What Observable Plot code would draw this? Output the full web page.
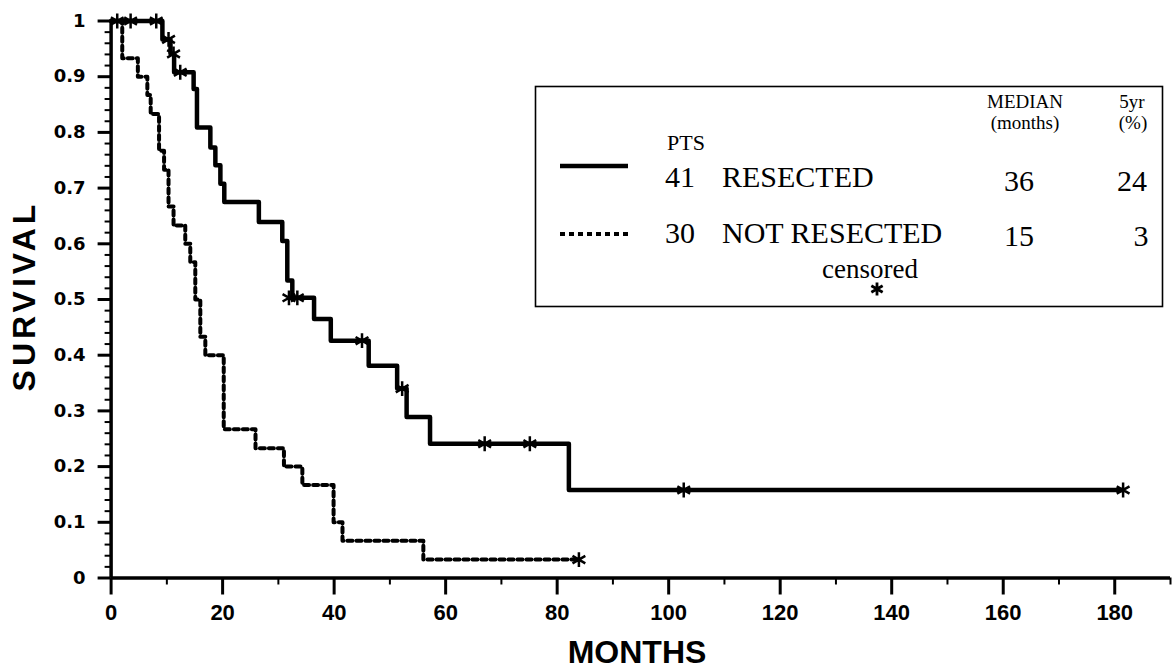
<!DOCTYPE html>
<html><head><meta charset="utf-8">
<script src="https://cdn.jsdelivr.net/npm/d3@7"></script>
<script src="https://cdn.jsdelivr.net/npm/@observablehq/plot@0.6"></script>
<style>
body{margin:0;background:#fff;}
#chart{position:relative;width:1176px;height:669px;}
</style></head><body><div id="chart"></div>
<script>
// ---- data ----
const resectedMonths   = [0, 9.2, 10.65, 11.3, 14.8, 15.4, 17.8, 18.7, 19.6, 20.3, 26.5, 30.7, 31.6, 32.5, 36.4, 39.4, 46.2, 51.3, 53.0, 57.2, 82.1, 181.5];
const resectedSurvival = [1, 0.967, 0.941, 0.908, 0.878, 0.809, 0.773, 0.741, 0.708, 0.675, 0.639, 0.605, 0.534, 0.503, 0.465, 0.426, 0.381, 0.340, 0.289, 0.241, 0.158, 0.158];
const resectedCensorMonths   = [1.1, 3.5, 8.1, 10.3, 11.2, 12.4, 31.9, 33.4, 45.0, 52.2, 67.0, 75.1, 102.7, 181.5];
const resectedCensorSurvival = [1, 1, 1, 0.967, 0.941, 0.908, 0.503, 0.503, 0.426, 0.340, 0.241, 0.241, 0.158, 0.158];

const notResectedMonths   = [0, 2.0, 4.8, 6.5, 7.1, 8.6, 9.5, 10.3, 11.2, 13.3, 14.2, 15.1, 16.0, 16.9, 20.2, 25.9, 31.0, 34.3, 39.9, 41.5, 56.0, 83.9];
const notResectedSurvival = [1, 0.933, 0.9, 0.867, 0.833, 0.767, 0.733, 0.667, 0.633, 0.6, 0.567, 0.5, 0.433, 0.4, 0.267, 0.233, 0.2, 0.167, 0.1, 0.067, 0.033, 0.033];
const notResectedCensorMonths   = [83.9];
const notResectedCensorSurvival = [0.033];

const xTicks      = [0, 20, 40, 60, 80, 100, 120, 140, 160, 180];
const xMinorTicks = [10, 30, 50, 70, 90, 110, 130, 150, 170, 190];
const yTicks      = [0, 0.1, 0.2, 0.3, 0.4, 0.5, 0.6, 0.7, 0.8, 0.9, 1];
const yMinorTicks = [0.02,0.04,0.06,0.08,0.12,0.14,0.16,0.18,0.22,0.24,0.26,0.28,0.32,0.34,0.36,0.38,0.42,0.44,0.46,0.48,0.52,0.54,0.56,0.58,0.62,0.64,0.66,0.68,0.72,0.74,0.76,0.78,0.82,0.84,0.86,0.88,0.92,0.94,0.96,0.98];

const legendPts     = [41, 30];
const legendGroups  = ["RESECTED", "NOT RESECTED"];
const legendMedian  = [36, 15];
const legendFiveYr  = [24, 3];

// ---- tables built from the arrays ----
const resected = resectedMonths.map((m, i) => ({month: m, s: resectedSurvival[i]}));
const notResected = notResectedMonths.map((m, i) => ({month: m, s: notResectedSurvival[i]}));
const censored = [
  ...resectedCensorMonths.map((m, i) => ({month: m, s: resectedCensorSurvival[i]})),
  ...notResectedCensorMonths.map((m, i) => ({month: m, s: notResectedCensorSurvival[i]}))
];

const fmtY = d => String(+d.toFixed(1));

const svgEl = Plot.plot({
  width: 1176, height: 669,
  marginLeft: 110.6, marginRight: 6, marginTop: 20.5, marginBottom: 91.5,
  style: {background: "white", color: "black", overflow: "visible"},
  x: {domain: [0, 190], label: null},
  y: {domain: [0, 1], label: null},
  marks: [
    Plot.axisX(xMinorTicks, {tickSize: 7, strokeWidth: 2, text: null, label: null}),
    Plot.axisX(xTicks, {tickSize: 17, strokeWidth: 3, tickPadding: 9, fontSize: 22, fontWeight: "bold", fontFamily: "Liberation Sans, Arial, sans-serif", tickFormat: d3.format("d"), label: null}),
    Plot.axisY(yMinorTicks, {tickSize: 6, strokeWidth: 2, text: null, label: null}),
    Plot.axisY(yTicks, {tickSize: 13, strokeWidth: 3, tickPadding: 12.5, fontSize: 18, fontWeight: "bold", fontFamily: "DejaVu Sans, sans-serif", tickFormat: fmtY, label: null}),
    Plot.ruleY([0], {stroke: "black", strokeWidth: 3.5}),
    Plot.ruleX([0], {y1: 0, y2: 1, stroke: "black", strokeWidth: 3.5}),
    Plot.line(notResected, {x: "month", y: "s", curve: "step-after", stroke: "black", strokeWidth: 4, strokeDasharray: "5,4"}),
    Plot.line(resected, {x: "month", y: "s", curve: "step-after", stroke: "black", strokeWidth: 4.5}),
    Plot.dot(censored, {x: "month", y: "s", symbol: "asterisk", r: 7, stroke: "black", strokeWidth: 2.5})
  ]
});
document.getElementById("chart").appendChild(svgEl);

// ---- axis titles and legend box ----
const svg = d3.select(svgEl);
svg.append("text")
  .attr("x", 637).attr("y", 663)
  .attr("text-anchor", "middle")
  .attr("font-family", "Liberation Sans, Arial, sans-serif")
  .attr("font-weight", "bold").attr("font-size", 32)
  .text("MONTHS");
svg.append("text")
  .attr("transform", "translate(35,296) rotate(-90)")
  .attr("text-anchor", "middle")
  .attr("font-family", "Liberation Sans, Arial, sans-serif")
  .attr("font-weight", "bold").attr("font-size", 32)
  .attr("letter-spacing", 4)
  .text("SURVIVAL");

const lg = svg.append("g")
  .attr("font-family", "Liberation Serif, Times New Roman, serif")
  .attr("fill", "black")
  .attr("text-anchor", "start");
lg.append("rect").attr("x", 535.5).attr("y", 86.5).attr("width", 627).attr("height", 220)
  .attr("fill", "white").attr("stroke", "black").attr("stroke-width", 1.6);
lg.append("text").attr("x", 667).attr("y", 150).attr("font-size", 22).text("PTS");
lg.append("text").attr("x", 1025).attr("y", 108).attr("font-size", 19).attr("text-anchor", "middle").text("MEDIAN");
lg.append("text").attr("x", 1025).attr("y", 129).attr("font-size", 19).attr("text-anchor", "middle").text("(months)");
lg.append("text").attr("x", 1132).attr("y", 108).attr("font-size", 19).attr("text-anchor", "middle").text("5yr");
lg.append("text").attr("x", 1133).attr("y", 129).attr("font-size", 19).attr("text-anchor", "middle").text("(%)");

const rowY = [187, 243];
const valY = [191, 246];
lg.append("line").attr("x1", 560).attr("x2", 628).attr("y1", 166).attr("y2", 166).attr("stroke", "black").attr("stroke-width", 4.5);
lg.append("line").attr("x1", 560).attr("x2", 628).attr("y1", 234).attr("y2", 234).attr("stroke", "black").attr("stroke-width", 4).attr("stroke-dasharray", "5,4");
legendPts.forEach((p, i) => {
  lg.append("text").attr("x", 665).attr("y", rowY[i]).attr("font-size", 30).text(p);
  lg.append("text").attr("x", 722).attr("y", rowY[i]).attr("font-size", 30).text(legendGroups[i]);
  lg.append("text").attr("x", 1019).attr("y", valY[i]).attr("font-size", 30).attr("text-anchor", "middle").text(legendMedian[i]);
  lg.append("text").attr("x", i === 0 ? 1132 : 1141).attr("y", valY[i]).attr("font-size", 30).attr("text-anchor", "middle").text(legendFiveYr[i]);
});
lg.append("text").attr("x", 870).attr("y", 278).attr("font-size", 27).attr("text-anchor", "middle").text("censored");
lg.append("path").attr("transform", "translate(877,289)")
  .attr("d", d3.symbol(d3.symbolAsterisk, 120)())
  .attr("stroke", "black").attr("stroke-width", 2.8).attr("fill", "none");
</script>
</body></html>
